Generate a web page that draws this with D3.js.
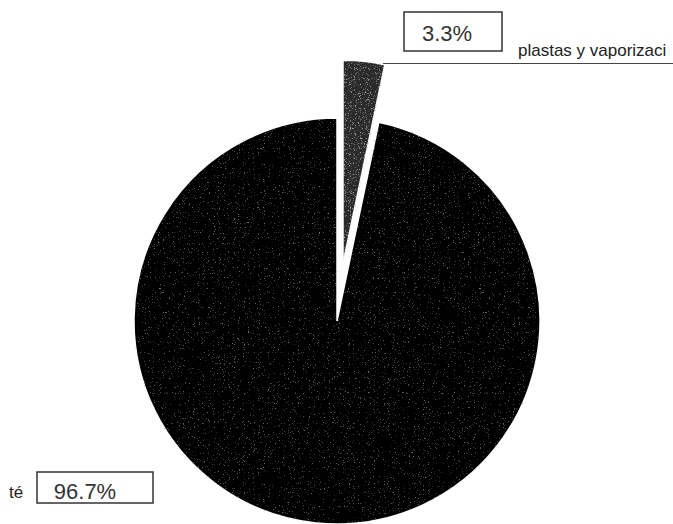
<!DOCTYPE html>
<html>
<head>
<meta charset="utf-8">
<script src="https://cdn.jsdelivr.net/npm/d3@7"></script>
<style>
  html, body { margin: 0; padding: 0; background: #fff; }
  svg { display: block; }
</style>
</head>
<body>
<svg id="chart" width="673" height="524"></svg>
<script>
// Share of each category (percent), drawn clockwise from 12 o'clock
const categories = ["plastas y vaporizaci", "té"];
const values = [3.3, 96.7];
const sliceColors = ["#2c2c2c", "#050505"];
const explodeBy = [58, 0];

const width = 673, height = 524;
const cx = 337, cy = 321, radius = 203;

const svg = d3.select("#chart");

const pie = d3.pie().sort(null).value(d => d);
const arcs = pie(values);
const arc = d3.arc().innerRadius(0).outerRadius(radius);
const fmt = v => d3.format(".1f")(v) + "%";

// Sparse speckle texture for the slices (one strength per slice)
const defs = svg.append("defs");
const grain = [
  { id: "grain0", grey: 0.42, a: -5, b: 2.0 },
  { id: "grain1", grey: 0.22, a: -5, b: 1.6 }
];
grain.forEach(s => {
  const f = defs.append("filter").attr("id", s.id)
    .attr("x", 0).attr("y", 0).attr("width", 1).attr("height", 1);
  f.append("feTurbulence").attr("type", "fractalNoise").attr("baseFrequency", 0.8)
    .attr("numOctaves", 2).attr("seed", 5).attr("result", "noise");
  f.append("feColorMatrix").attr("in", "noise").attr("type", "matrix")
    .attr("values", `0 0 0 0 ${s.grey}  0 0 0 0 ${s.grey}  0 0 0 0 ${s.grey}  0 0 0 ${s.a} ${s.b}`)
    .attr("result", "spots");
  f.append("feComposite").attr("in", "spots").attr("in2", "SourceGraphic")
    .attr("operator", "in").attr("result", "clipped");
  const m = f.append("feMerge");
  m.append("feMergeNode").attr("in", "SourceGraphic");
  m.append("feMergeNode").attr("in", "clipped");
});

const g = svg.append("g").attr("transform", `translate(${cx},${cy})`);

g.selectAll("path.slice")
  .data(arcs)
  .join("path")
  .attr("class", "slice")
  .attr("d", arc)
  .attr("transform", (d, i) => {
    const mid = (d.startAngle + d.endAngle) / 2;
    return `translate(${Math.sin(mid) * explodeBy[i]},${-Math.cos(mid) * explodeBy[i]})`;
  })
  .attr("fill", (d, i) => sliceColors[i])
  .attr("stroke", "#fff")
  .attr("stroke-width", 1.5)
  .attr("stroke-linejoin", "bevel")
  .attr("filter", (d, i) => `url(#grain${i})`);

// Leader rule under the small-slice label
svg.append("line")
  .attr("x1", 383).attr("x2", 673)
  .attr("y1", 63.5).attr("y2", 63.5)
  .attr("stroke", "#444").attr("stroke-width", 1.2);

// Percentage boxes
const boxes = [
  { x: 404, y: 12, w: 98, h: 39, tx: 447, ty: 41, v: values[0] },
  { x: 37, y: 472, w: 116, h: 31, tx: 85, ty: 499, v: values[1] }
];
const bg = svg.append("g");
bg.selectAll("rect")
  .data(boxes)
  .join("rect")
  .attr("x", d => d.x).attr("y", d => d.y)
  .attr("width", d => d.w).attr("height", d => d.h)
  .attr("fill", "#fff")
  .attr("stroke", "#333").attr("stroke-width", 1.5);
bg.selectAll("text")
  .data(boxes)
  .join("text")
  .attr("x", d => d.tx).attr("y", d => d.ty)
  .attr("text-anchor", "middle")
  .attr("font-family", "Liberation Sans, Arial, sans-serif")
  .attr("font-size", 22)
  .attr("fill", "#333")
  .text(d => fmt(d.v));

// Category names
const names = [
  { x: 518, y: 56, t: categories[0] },
  { x: 9, y: 498, t: categories[1] }
];
svg.append("g").selectAll("text")
  .data(names)
  .join("text")
  .attr("x", d => d.x).attr("y", d => d.y)
  .attr("font-family", "Liberation Sans, Arial, sans-serif")
  .attr("font-size", 17)
  .attr("fill", "#222")
  .text(d => d.t);
</script>
</body>
</html>
